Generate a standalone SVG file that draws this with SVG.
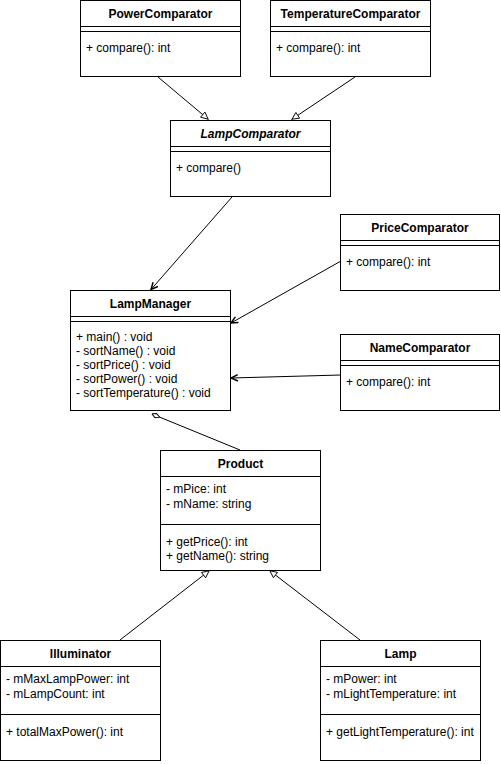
<svg xmlns="http://www.w3.org/2000/svg" width="501" height="764" viewBox="0 0 501 764">
<style>
.box{fill:#fff;stroke:#000;stroke-width:1}
.ln{stroke:#000;stroke-width:1;fill:none}
.t{font-family:"Liberation Sans",Arial,sans-serif;font-size:12px;font-weight:bold;text-anchor:middle;fill:#000}
.ti{font-style:italic}
.m{font-family:"Liberation Sans",Arial,sans-serif;font-size:12px;fill:#000}
</style>
<defs>
<marker id="tri" viewBox="0 0 10 10" refX="10" refY="5" markerWidth="8.5" markerHeight="8" markerUnits="userSpaceOnUse" orient="auto">
<path d="M0.6,0.8 L9.4,5 L0.6,9.2 z" fill="#fff" stroke="#000" stroke-width="1.1"/>
</marker>
<marker id="open" viewBox="0 0 10 10" refX="9.5" refY="5" markerWidth="8" markerHeight="8" markerUnits="userSpaceOnUse" orient="auto">
<path d="M1,1 L9.5,5 L1,9" fill="none" stroke="#000" stroke-width="1.8"/>
</marker>
<marker id="dia" viewBox="0 0 12 8" refX="11.5" refY="4" markerWidth="9" markerHeight="6" markerUnits="userSpaceOnUse" orient="auto">
<path d="M0.5,4 L6,1 L11.5,4 L6,7 z" fill="#fff" stroke="#000" stroke-width="1.3"/>
</marker>
</defs>

<g id="connectors">
<line class="ln" x1="158" y1="77" x2="208.5" y2="119.5" marker-end="url(#tri)"/>
<line class="ln" x1="355" y1="77" x2="291.5" y2="119.5" marker-end="url(#tri)"/>
<line class="ln" x1="232" y1="197" x2="151" y2="289.5" marker-end="url(#open)"/>
<line class="ln" x1="341" y1="261" x2="231" y2="323" marker-end="url(#open)"/>
<line class="ln" x1="341" y1="375" x2="231" y2="378" marker-end="url(#open)"/>
<line class="ln" x1="240" y1="450" x2="152" y2="414" marker-end="url(#dia)"/>
<line class="ln" x1="120" y1="640" x2="209.5" y2="570.5" marker-end="url(#tri)"/>
<line class="ln" x1="360" y1="640" x2="269.5" y2="570.5" marker-end="url(#tri)"/>
</g>

<g id="PowerComparator">
<rect class="box" x="80.5" y="0.5" width="160" height="76"/>
<line class="ln" x1="80.5" y1="26.5" x2="240.5" y2="26.5"/>
<line class="ln" x1="80.5" y1="31.5" x2="240.5" y2="31.5"/>
<text class="t" x="160.5" y="18">PowerComparator</text>
<text class="m" x="86" y="52">+ compare(): int</text>
</g>

<g id="TemperatureComparator">
<rect class="box" x="270.5" y="0.5" width="160" height="76"/>
<line class="ln" x1="270.5" y1="26.5" x2="430.5" y2="26.5"/>
<line class="ln" x1="270.5" y1="31.5" x2="430.5" y2="31.5"/>
<text class="t" x="350.5" y="18">TemperatureComparator</text>
<text class="m" x="276" y="52">+ compare(): int</text>
</g>

<g id="LampComparator">
<rect class="box" x="170.5" y="120.5" width="160" height="76"/>
<line class="ln" x1="170.5" y1="146.5" x2="330.5" y2="146.5"/>
<line class="ln" x1="170.5" y1="151.5" x2="330.5" y2="151.5"/>
<text class="t ti" x="250.5" y="138">LampComparator</text>
<text class="m" x="176" y="172">+ compare()</text>
</g>

<g id="LampManager">
<rect class="box" x="70.5" y="290.5" width="160" height="120"/>
<line class="ln" x1="70.5" y1="316.5" x2="230.5" y2="316.5"/>
<line class="ln" x1="70.5" y1="321.5" x2="230.5" y2="321.5"/>
<text class="t" x="150.5" y="308">LampManager</text>
<text class="m" x="76" y="341">+ main() : void</text>
<text class="m" x="76" y="355">- sortName() : void</text>
<text class="m" x="76" y="369">- sortPrice() : void</text>
<text class="m" x="76" y="383">- sortPower() : void</text>
<text class="m" x="76" y="397">- sortTemperature() : void</text>
</g>

<g id="PriceComparator">
<rect class="box" x="340.5" y="214.5" width="159" height="76"/>
<line class="ln" x1="340.5" y1="240.5" x2="499.5" y2="240.5"/>
<line class="ln" x1="340.5" y1="245.5" x2="499.5" y2="245.5"/>
<text class="t" x="420" y="232">PriceComparator</text>
<text class="m" x="346" y="266">+ compare(): int</text>
</g>

<g id="NameComparator">
<rect class="box" x="340.5" y="334.5" width="159" height="76"/>
<line class="ln" x1="340.5" y1="360.5" x2="499.5" y2="360.5"/>
<line class="ln" x1="340.5" y1="365.5" x2="499.5" y2="365.5"/>
<text class="t" x="420" y="352">NameComparator</text>
<text class="m" x="346" y="386">+ compare(): int</text>
</g>

<g id="Product">
<rect class="box" x="160.5" y="450.5" width="160" height="120"/>
<line class="ln" x1="160.5" y1="476.5" x2="320.5" y2="476.5"/>
<line class="ln" x1="160.5" y1="524.5" x2="320.5" y2="524.5"/>
<text class="t" x="240.5" y="468">Product</text>
<text class="m" x="166" y="493">- mPice: int</text>
<text class="m" x="166" y="508">- mName: string</text>
<text class="m" x="166" y="546">+ getPrice(): int</text>
<text class="m" x="166" y="560">+ getName(): string</text>
</g>

<g id="Illuminator">
<rect class="box" x="0.5" y="640.5" width="160" height="120"/>
<line class="ln" x1="0.5" y1="666.5" x2="160.5" y2="666.5"/>
<line class="ln" x1="0.5" y1="714.5" x2="160.5" y2="714.5"/>
<text class="t" x="80.5" y="658">Illuminator</text>
<text class="m" x="6" y="683">- mMaxLampPower: int</text>
<text class="m" x="6" y="698">- mLampCount: int</text>
<text class="m" x="6" y="736">+ totalMaxPower(): int</text>
</g>

<g id="Lamp">
<rect class="box" x="320.5" y="640.5" width="160" height="120"/>
<line class="ln" x1="320.5" y1="666.5" x2="480.5" y2="666.5"/>
<line class="ln" x1="320.5" y1="714.5" x2="480.5" y2="714.5"/>
<text class="t" x="400.5" y="658">Lamp</text>
<text class="m" x="326" y="683">- mPower: int</text>
<text class="m" x="326" y="698">- mLightTemperature: int</text>
<text class="m" x="326" y="736">+ getLightTemperature(): int</text>
</g>
</svg>
